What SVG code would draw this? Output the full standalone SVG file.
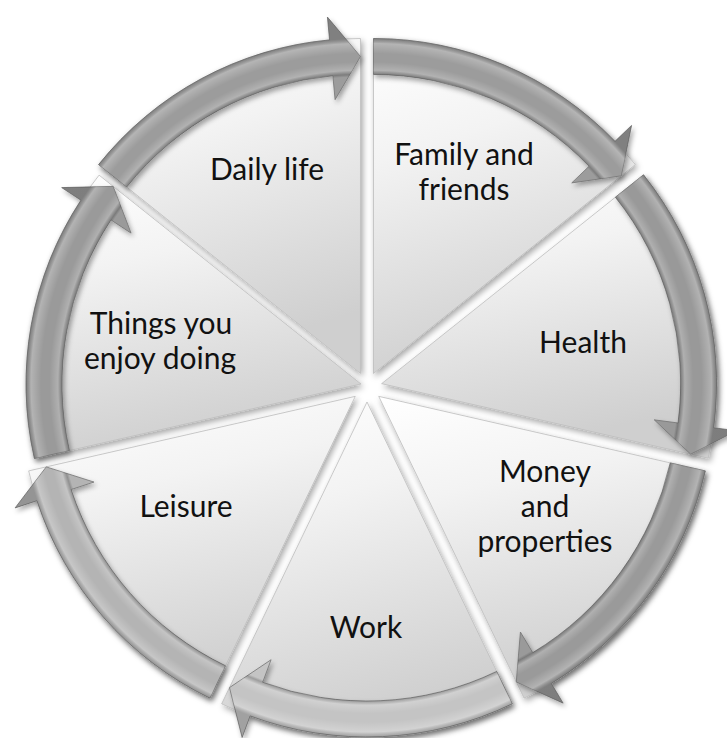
<svg xmlns="http://www.w3.org/2000/svg" width="727" height="738" viewBox="0 0 727 738">
  <defs>
    <style>
      .seg { stroke: #bdbdbd; stroke-width: 0.8; filter: url(#segShadow); }
      .arrow { stroke: #747474; stroke-width: 0.8; filter: url(#arrowShadow); }
      .bevel { stroke: none; }
      .label { font-family: Lato, "Liberation Sans", sans-serif; font-size: 30px; fill: #111; text-anchor: middle; }
    </style>
    <filter id="segShadow" x="-10%" y="-10%" width="120%" height="120%">
      <feDropShadow dx="2" dy="3" stdDeviation="3" flood-color="#000" flood-opacity="0.35"/>
    </filter>
    <filter id="arrowShadow" x="-10%" y="-10%" width="120%" height="120%">
      <feDropShadow dx="2" dy="3" stdDeviation="2.5" flood-color="#000" flood-opacity="0.35"/>
    </filter>
    <!-- light top, grey bottom on every wedge -->
    <linearGradient id="segFill" x1="0" y1="0" x2="0.25" y2="1">
      <stop offset="0" stop-color="#ffffff"/>
      <stop offset="0.35" stop-color="#f3f3f3"/>
      <stop offset="1" stop-color="#cfcfcf"/>
    </linearGradient>
    <!-- bevel shading across the arrow band (r 299..335) -->
    <radialGradient id="bevel" gradientUnits="userSpaceOnUse" cx="0" cy="0" r="335">
      <stop offset="0" stop-color="#000" stop-opacity="0"/>
      <stop offset="0.885" stop-color="#000" stop-opacity="0"/>
      <stop offset="0.8925" stop-color="#000" stop-opacity="0.2"/>
      <stop offset="0.905" stop-color="#fff" stop-opacity="0.22"/>
      <stop offset="0.93" stop-color="#fff" stop-opacity="0"/>
      <stop offset="0.955" stop-color="#fff" stop-opacity="0"/>
      <stop offset="0.985" stop-color="#fff" stop-opacity="0.25"/>
      <stop offset="1" stop-color="#000" stop-opacity="0.18"/>
    </radialGradient>
    <radialGradient id="bvDaily" href="#bevel" cx="360.49" cy="373.49"/>
    <radialGradient id="bvFamily" href="#bevel" cx="373.51" cy="373.49"/>
    <radialGradient id="bvHealth" href="#bevel" cx="381.62" cy="383.66"/>
    <radialGradient id="bvMoney" href="#bevel" cx="378.73" cy="396.35"/>
    <radialGradient id="bvWork" href="#bevel" cx="367" cy="402"/>
    <radialGradient id="bvLeisure" href="#bevel" cx="355.27" cy="396.35"/>
    <radialGradient id="bvThings" href="#bevel" cx="361" cy="384"/>
  </defs>

  <rect width="727" height="738" fill="#ffffff"/>

  <!-- wedges of the exploded pie -->
  <g id="daily-life">
    <path class="seg" fill="url(#segFill)" d="M360.49 373.49 L98.58 164.62 A335 335 0 0 1 360.49 38.49 Z"/>
    <text class="label" x="267" y="180">Daily life</text>
  </g>
  <g id="family-and-friends">
    <path class="seg" fill="url(#segFill)" d="M373.51 373.49 L373.51 38.49 A335 335 0 0 1 635.42 164.62 Z"/>
    <text class="label" x="464" y="165">Family and</text>
    <text class="label" x="464" y="200">friends</text>
  </g>
  <g id="health">
    <path class="seg" fill="url(#segFill)" d="M381.62 383.66 L643.53 174.79 A335 335 0 0 1 708.22 458.20 Z"/>
    <text class="label" x="583" y="353">Health</text>
  </g>
  <g id="money-and-properties">
    <path class="seg" fill="url(#segFill)" d="M378.73 396.35 L705.33 470.89 A335 335 0 0 1 524.08 698.17 Z"/>
    <text class="label" x="545" y="482">Money</text>
    <text class="label" x="545" y="517">and</text>
    <text class="label" x="545" y="552">properties</text>
  </g>
  <g id="work">
    <path class="seg" fill="url(#segFill)" d="M367 402 L512.35 703.82 A335 335 0 0 1 221.65 703.82 Z"/>
    <text class="label" x="366" y="638">Work</text>
  </g>
  <g id="leisure">
    <path class="seg" fill="url(#segFill)" d="M355.27 396.35 L209.92 698.17 A335 335 0 0 1 28.67 470.89 Z"/>
    <text class="label" x="186" y="517">Leisure</text>
  </g>
  <g id="things-you-enjoy-doing">
    <path class="seg" fill="url(#segFill)" d="M361 384 L34.40 458.54 A335 335 0 0 1 99.09 175.13 Z"/>
    <text class="label" x="161" y="334">Things you</text>
    <text class="label" x="160" y="369">enjoy doing</text>
  </g>

  <!-- curved block arrows running clockwise round the rim -->
  <g id="connectors">
    <g id="arrow-daily-to-family">
      <path class="arrow" fill="#9c9c9c" d="M98.58 164.62 A335 335 0 0 1 329.55 39.920 L327.42 17.02 L360.49 56.49 L335.09 99.67 L332.87 75.77 A299 299 0 0 0 126.72 187.07 Z"/>
      <path class="bevel" fill="url(#bvDaily)" d="M98.58 164.62 A335 335 0 0 1 329.55 39.92 L327.42 17.02 L360.49 56.49 L335.09 99.67 L332.87 75.77 A299 299 0 0 0 126.72 187.07 Z"/>
    </g>
    <g id="arrow-family-to-health">
      <path class="arrow" fill="#9c9c9c" d="M373.51 38.49 A335 335 0 0 1 615.01 141.32 L631.59 125.38 L621.35 175.84 L571.76 182.90 L589.06 166.27 A299 299 0 0 0 373.51 74.49 Z"/>
      <path class="bevel" fill="url(#bvFamily)" d="M373.51 38.49 A335 335 0 0 1 615.01 141.32 L631.59 125.38 L621.35 175.84 L571.76 182.90 L589.06 166.27 A299 299 0 0 0 373.51 74.49 Z"/>
    </g>
    <g id="arrow-health-to-money">
      <path class="arrow" fill="#999999" d="M643.53 174.79 A335 335 0 0 1 713.71 427.72 L736.51 430.74 L690.67 454.20 L654.23 419.83 L678.02 422.98 A299 299 0 0 0 615.39 197.24 Z"/>
      <path class="bevel" fill="url(#bvHealth)" d="M643.53 174.79 A335 335 0 0 1 713.71 427.72 L736.51 430.74 L690.67 454.20 L654.23 419.83 L678.02 422.98 A299 299 0 0 0 615.39 197.24 Z"/>
    </g>
    <g id="arrow-money-to-work">
      <path class="arrow" fill="#9a9a9a" d="M705.33 470.89 A335 335 0 0 1 551.33 683.47 L563.18 703.18 L516.27 681.96 L520.42 632.04 L532.78 652.61 A299 299 0 0 0 670.23 462.88 Z"/>
      <path class="bevel" fill="url(#bvMoney)" d="M705.33 470.89 A335 335 0 0 1 551.33 683.47 L563.18 703.18 L516.27 681.96 L520.42 632.04 L532.78 652.61 A299 299 0 0 0 670.23 462.88 Z"/>
    </g>
    <g id="arrow-work-to-leisure">
      <path class="arrow" fill="#c4c4c4" d="M512.35 703.82 A335 335 0 0 1 250.16 715.96 L242.13 737.52 L229.46 687.61 L271.08 659.73 L262.71 682.22 A299 299 0 0 0 496.73 671.39 Z"/>
      <path class="bevel" fill="url(#bvWork)" d="M512.35 703.82 A335 335 0 0 1 250.16 715.96 L242.13 737.52 L229.46 687.61 L271.08 659.73 L262.71 682.22 A299 299 0 0 0 496.73 671.39 Z"/>
    </g>
    <g id="arrow-leisure-to-things">
      <path class="arrow" fill="#b4b4b4" d="M209.92 698.17 A335 335 0 0 1 36.95 500.75 L15.10 507.92 L46.22 466.89 L93.96 482.05 L71.16 489.53 A299 299 0 0 0 225.54 665.74 Z"/>
      <path class="bevel" fill="url(#bvLeisure)" d="M209.92 698.17 A335 335 0 0 1 36.95 500.75 L15.10 507.92 L46.22 466.89 L93.96 482.05 L71.16 489.53 A299 299 0 0 0 225.54 665.74 Z"/>
    </g>
    <g id="arrow-things-to-daily">
      <path class="arrow" fill="#9a9a9a" d="M34.40 458.54 A335 335 0 0 1 80.91 200.22 L61.68 187.60 L113.16 186.35 L131.08 233.13 L111.01 219.97 A299 299 0 0 0 69.50 450.53 Z"/>
      <path class="bevel" fill="url(#bvThings)" d="M34.40 458.54 A335 335 0 0 1 80.91 200.22 L61.68 187.60 L113.16 186.35 L131.08 233.13 L111.01 219.97 A299 299 0 0 0 69.50 450.53 Z"/>
    </g>
  </g>
</svg>
